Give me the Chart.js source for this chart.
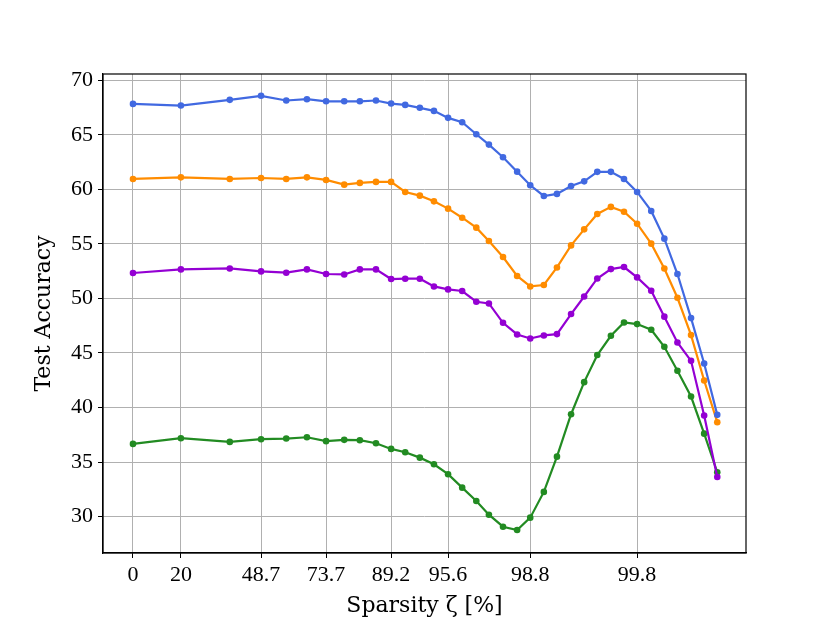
<!DOCTYPE html>
<html lang="en">
<head>
    <meta charset="UTF-8">
    <title>Test Accuracy vs Sparsity</title>
    <script src="https://cdn.jsdelivr.net/npm/chart.js"></script>
    <style>
        body { margin: 0; background: white; }
        #wrap { width: 830px; height: 623px; }
    </style>
</head>
<body>
    <div id="wrap"><canvas id="chart" width="830" height="623"></canvas></div>

    <script>
        // x position of each pruning round on the axis (axis units)
        const xPos = [0, 9.5, 19.2, 25.4, 30.4, 34.5, 38.3, 41.9, 45.0, 48.2, 51.2, 54.0, 56.9, 59.7,
            62.5, 65.3, 68.1, 70.6, 73.4, 76.2, 78.8, 81.5, 84.1, 86.9, 89.5, 92.1, 94.8, 97.4,
            100, 102.8, 105.4, 108.0, 110.7, 113.3, 115.9];

        // labelled ticks: axis position -> sparsity label
        const tickPos = [0, 9.5, 25.4, 38.3, 51.2, 62.5, 78.8, 100];
        const tickLabels = ['0', '20', '48.7', '73.7', '89.2', '95.6', '98.8', '99.8'];

        const blue = [67.83, 67.68, 68.2, 68.57, 68.14, 68.26, 68.07, 68.07, 68.07, 68.14, 67.86, 67.74,
            67.47, 67.19, 66.55, 66.15, 65.05, 64.1, 62.94, 61.62, 60.37, 59.39, 59.58, 60.31, 60.73,
            61.6, 61.6, 60.95, 59.76, 58.02, 55.48, 52.24, 48.2, 44.04, 39.33];
        const orange = [60.95, 61.1, 60.95, 61.04, 60.95, 61.1, 60.86, 60.43, 60.59, 60.68, 60.68, 59.76,
            59.42, 58.9, 58.23, 57.4, 56.49, 55.27, 53.8, 52.06, 51.1, 51.23, 52.84, 54.86, 56.33,
            57.74, 58.39, 57.95, 56.85, 55.02, 52.75, 50.06, 46.64, 42.48, 38.66];
        const purple = [52.33, 52.66, 52.75, 52.48, 52.36, 52.66, 52.24, 52.2, 52.66, 52.66, 51.78, 51.81,
            51.81, 51.1, 50.83, 50.68, 49.7, 49.54, 47.77, 46.7, 46.33, 46.61, 46.73, 48.57, 50.18,
            51.83, 52.69, 52.88, 51.93, 50.71, 48.33, 45.96, 44.28, 39.27, 33.64];
        const green = [36.67, 37.19, 36.85, 37.1, 37.16, 37.28, 36.92, 37.04, 37.01, 36.73, 36.21, 35.9,
            35.41, 34.8, 33.89, 32.66, 31.44, 30.18, 29.08, 28.78, 29.91, 32.27, 35.5, 39.39, 42.33,
            44.81, 46.58, 47.8, 47.65, 47.13, 45.57, 43.37, 41.01, 37.61, 34.07];

        const yTicks = [30, 35, 40, 45, 50, 55, 60, 65, 70];

        const tickFont = 'Liberation Serif, serif';
        const titleFont = 'DejaVu Serif, serif';

        const makeSet = (vals, color) => ({
            data: vals.map((v, i) => ({ x: xPos[i], y: v })),
            borderColor: color,
            backgroundColor: color,
            borderWidth: 2.2,
            pointRadius: 3.3,
            pointHoverRadius: 3.3,
            pointBorderWidth: 0,
            showLine: true,
            tension: 0
        });

        // frame around plot area, like matplotlib spines
        const frame = {
            id: 'frame',
            afterDraw(chart) {
                const a = chart.chartArea;
                const ctx = chart.ctx;
                ctx.save();
                ctx.strokeStyle = 'black';
                ctx.lineWidth = 1.2;
                ctx.strokeRect(a.left, a.top, a.right - a.left, a.bottom - a.top);
                ctx.restore();
            }
        };

        new Chart(document.getElementById('chart'), {
            type: 'scatter',
            data: {
                datasets: [
                    makeSet(blue, '#4169E1'),
                    makeSet(orange, '#FF8C00'),
                    makeSet(purple, '#9400D3'),
                    makeSet(green, '#228B22')
                ]
            },
            options: {
                responsive: false,
                animation: false,
                layout: { padding: { left: 28, top: 74, right: 84, bottom: 0 } },
                plugins: { legend: { display: false }, tooltip: { enabled: false } },
                scales: {
                    x: {
                        type: 'linear',
                        min: -5.95,
                        max: 121.6,
                        afterBuildTicks: s => { s.ticks = tickPos.map(v => ({ value: v })); },
                        afterFit: s => { s.height = 70; },
                        grid: { color: '#b0b0b0', lineWidth: 1, tickColor: 'black', tickLength: 5 },
                        border: { color: 'black', width: 1.2 },
                        ticks: {
                            color: 'black',
                            padding: 4,
                            maxRotation: 0,
                            autoSkip: false,
                            font: { family: tickFont, size: 22 },
                            callback: v => tickLabels[tickPos.indexOf(v)]
                        },
                        title: {
                            display: true,
                            text: 'Sparsity ζ [%]',
                            color: 'black',
                            font: { family: titleFont, size: 22 },
                            padding: { top: 0, bottom: 4 }
                        }
                    },
                    y: {
                        min: 26.67,
                        max: 70.57,
                        afterBuildTicks: s => { s.ticks = yTicks.map(v => ({ value: v })); },
                        afterFit: s => { s.width = 75; },
                        grid: { color: '#b0b0b0', lineWidth: 1, tickColor: 'black', tickLength: 5 },
                        border: { color: 'black', width: 1.2 },
                        ticks: {
                            color: 'black',
                            padding: 5,
                            font: { family: tickFont, size: 22 }
                        },
                        title: {
                            display: true,
                            text: 'Test Accuracy',
                            color: 'black',
                            font: { family: titleFont, size: 22 },
                            padding: { top: 3, bottom: 0 }
                        }
                    }
                }
            },
            plugins: [frame]
        });
    </script>
</body>
</html>
